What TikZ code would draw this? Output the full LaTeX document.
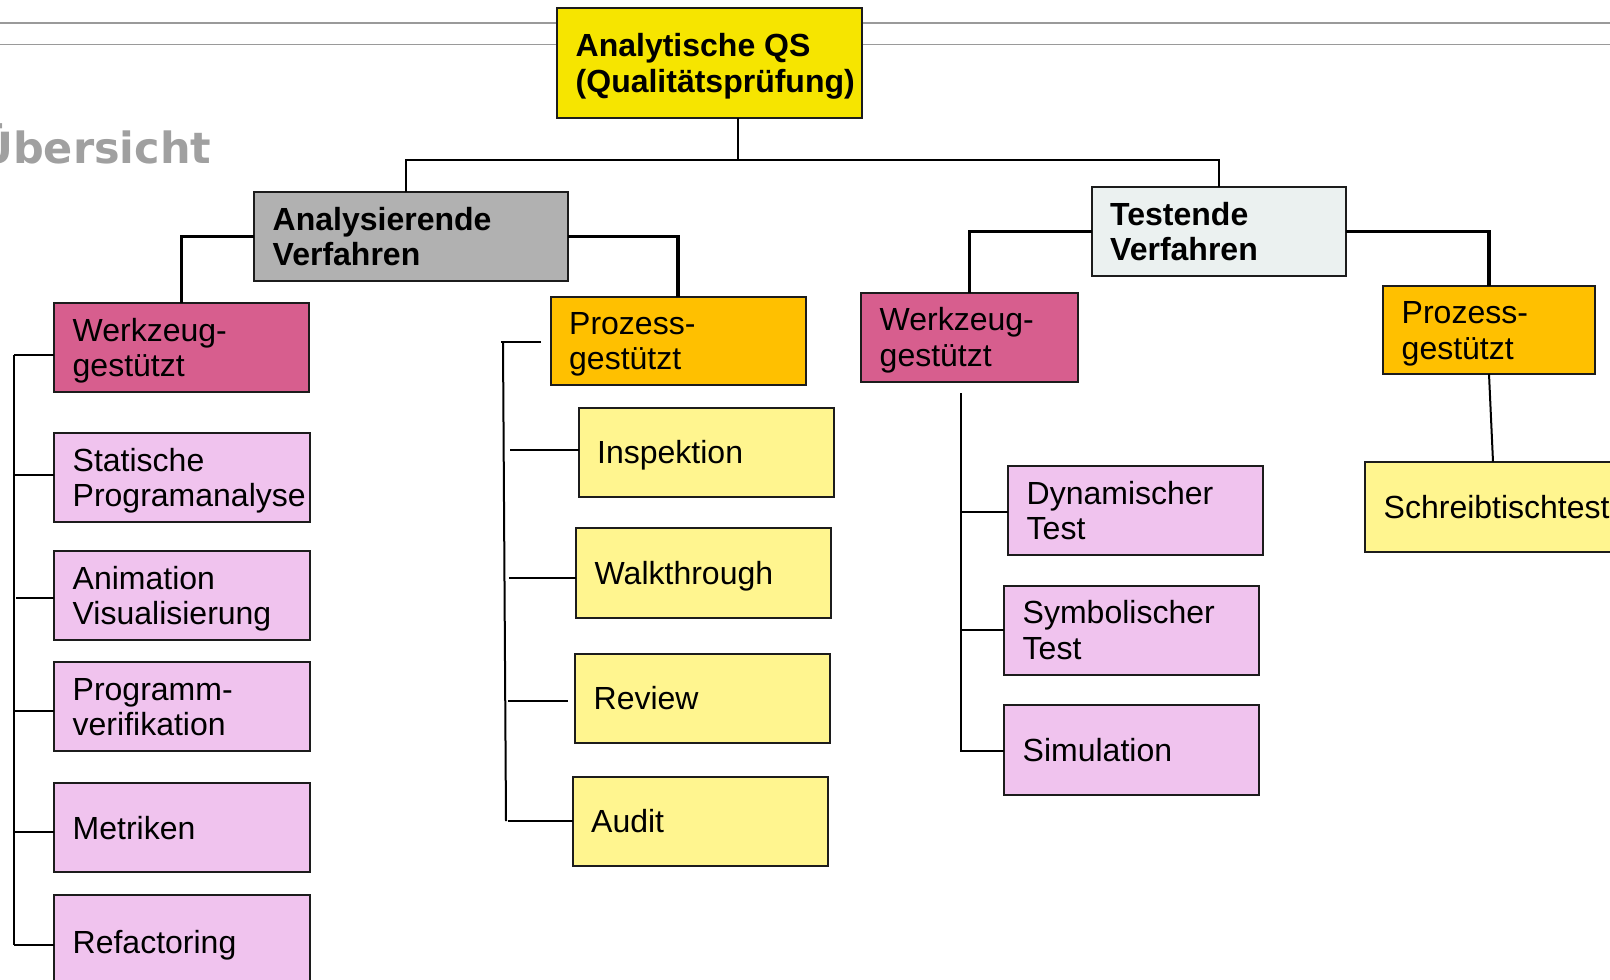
\documentclass[tikz,border=0pt]{standalone}
\usepackage{fontspec}
\setmainfont{Liberation Sans}
\newfontfamily\uebfont{DejaVu Sans}
\usetikzlibrary{calc}
\definecolor{rootY}{HTML}{F6E500}
\definecolor{anaG}{HTML}{B1B1B1}
\definecolor{teF}{HTML}{EBF1F0}
\definecolor{wzP}{HTML}{D75E8E}
\definecolor{pzO}{HTML}{FFC000}
\definecolor{lpink}{HTML}{F0C3EE}
\definecolor{lyel}{HTML}{FFF58F}
\definecolor{boxline}{HTML}{1C1C1C}
\definecolor{topgray}{HTML}{9A9A9A}
\definecolor{uebgray}{HTML}{A0A0A0}
\tikzset{
  boxshape/.style={draw=boxline, line width=2pt, anchor=north west, inner sep=0pt, outer sep=0pt},
  boxtext/.style={anchor=west, inner sep=0pt, align=left, text depth=0pt, font=\fontsize{32}{35.5}\selectfont},
  boldtext/.style={boxtext, font=\bfseries\fontsize{32}{35.5}\selectfont},
  oneline/.style={text height=23pt},
  twolines/.style={text height=58.5pt},
  thinline/.style={draw=black, line width=2pt},
  thickline/.style={draw=black, line width=3.5pt},
  topline/.style={draw=topgray, line width=1.6pt}
}
\newcommand{\mybox}[8]{%
  \node[boxshape,fill=#2,minimum width=#6pt,minimum height=#7pt] (#1) at (#4,#5) {};
  \node[#3] (#1-t) at ([xshift=18.5pt]#1.west) {#8};
}
\begin{document}
\begin{tikzpicture}[x=1pt,y=-1pt]
\clip (0,0) rectangle (1610,980);
\fill[white] (0,0) rectangle (1610,980);

% header lines
\coordinate (tl1a) at (0,23);   \coordinate (tl1b) at (1610,23);
\coordinate (tl2a) at (0,44.5); \coordinate (tl2b) at (1610,44.5);
\draw[topline] (tl1a) -- (tl1b);
\draw[topline] (tl2a) -- (tl2b);

% title
\node[anchor=base west, inner sep=0pt, text=uebgray, font=\uebfont\bfseries\fontsize{43}{50}\selectfont] (ueb) at (-22,163.3) {Übersicht};

% boxes
\mybox{root}{rootY}{boldtext,twolines}{557}{7.5}{305}{110.5}{Analytische QS\\(Qualitätsprüfung)}
\mybox{ana}{anaG}{boldtext,twolines}{254}{192}{314}{89}{Analysierende\\Verfahren}
\mybox{te}{teF}{boldtext,twolines}{1091.5}{187}{254.5}{88.5}{Testende\\Verfahren}

\mybox{wz1}{wzP}{boxtext,twolines}{54}{303}{255}{89}{Werkzeug-\\gestützt}
\mybox{pz1}{pzO}{boxtext,twolines}{550.5}{296.5}{255}{88}{Prozess-\\gestützt}
\mybox{wz2}{wzP}{boxtext,twolines}{861}{292.5}{216.5}{89}{Werkzeug-\\gestützt}
\mybox{pz2}{pzO}{boxtext,twolines}{1383}{285.5}{212}{88.5}{Prozess-\\gestützt}

\mybox{sp}{lpink}{boxtext,twolines}{54}{433}{256}{89}{Statische\\Programanalyse}
\mybox{an}{lpink}{boxtext,twolines}{54}{551}{256}{89}{Animation\\Visualisierung}
\mybox{pv}{lpink}{boxtext,twolines}{54}{662}{256}{89}{Programm-\\verifikation}
\mybox{me}{lpink}{boxtext,oneline}{54}{783}{256}{89}{Metriken}
\mybox{rf}{lpink}{boxtext,oneline}{54}{895}{256}{94}{Refactoring}

\mybox{ip}{lyel}{boxtext,oneline}{578.5}{407.5}{255.5}{89}{Inspektion}
\mybox{wt}{lyel}{boxtext,oneline}{576}{528}{255}{89.5}{Walkthrough}
\mybox{rv}{lyel}{boxtext,oneline}{575}{653.5}{255}{89}{Review}
\mybox{au}{lyel}{boxtext,oneline}{572.5}{777}{255.5}{88.5}{Audit}

\mybox{dt}{lpink}{boxtext,twolines}{1008}{466}{254.5}{89}{Dynamischer\\Test}
\mybox{syt}{lpink}{boxtext,twolines}{1004}{585.5}{255}{89}{Symbolischer\\Test}
\mybox{si}{lpink}{boxtext,oneline}{1004}{705}{255}{89.5}{Simulation}

\mybox{st}{lyel}{boxtext,oneline}{1365}{461.7}{300}{90}{Schreibtischtest}

% top-level connectors
\coordinate (j0) at (738,160);
\coordinate (jA) at (406,160);
\draw[thinline] (root.south -| j0) -- (j0);
\draw[thinline] (ana.north -| jA) -- (jA) -- (jA -| te.north) -- (te.north);

% second level (thick)
\draw[thickline] (ana.west) -| (wz1.north);
\draw[thickline] (ana.east) -| (pz1.north);
\draw[thickline] (te.west) -| (wz2.north);
\draw[thickline] (te.east) -| (pz2.north);

% Prozess (testend) -> Schreibtischtest
\draw[thinline] (pz2.south) -- ($(st.north west)+(128,0)$);

% left bracket (Werkzeug-gestuetzt, analysierend)
\coordinate (sL1) at (14.3,355);
\coordinate (sL2) at (14.3,945);
\draw[thinline] (sL1) -- (sL2);
\draw[thinline] ([yshift=-7.5pt]wz1.west) -- ++(-39.7,0);
\draw[thinline] ([yshift=2.5pt]sp.west) -- ++(-39.7,0);
\draw[thinline] ([yshift=-2pt]an.west) -- ++(-38,0);
\draw[thinline] ([yshift=-4.5pt]pv.west) -- ++(-39.7,0);
\draw[thinline] ([yshift=-4.3pt]me.west) -- ++(-39.7,0);
\draw[thinline] ([yshift=-3pt]rf.west) -- ++(-39.7,0);

% Prozess-gestuetzt (analysierend) bracket
\coordinate (sP1) at (503,343);
\coordinate (sP2) at (506,821);
\draw[thinline] (sP1) -- (sP2);
\draw[thinline] ([xshift=-9.5pt,yshift=-1.5pt]pz1.west) -- ++(-40,0);
\draw[thinline] ([yshift=2pt]ip.west) -- ++(-69,0);
\draw[thinline] ([yshift=-5pt]wt.west) -- ++(-67,0);
\draw[thinline] ([xshift=-7.4pt,yshift=-3pt]rv.west) -- ++(-60,0);
\draw[thinline] (au.west) -- ++(-65,0);

% Werkzeug-gestuetzt (testend) bracket
\coordinate (sW1) at (961,393);
\coordinate (sW2) at (961,751.5);
\draw[thinline] (sW1) -- (sW2);
\draw[thinline] ([yshift=-1.8pt]dt.west) -- ++(-47,0);
\draw[thinline] (syt.west) -- ++(-43,0);
\draw[thinline] ([yshift=-1pt]si.west) -- ++(-43,0);
\end{tikzpicture}
\end{document}
